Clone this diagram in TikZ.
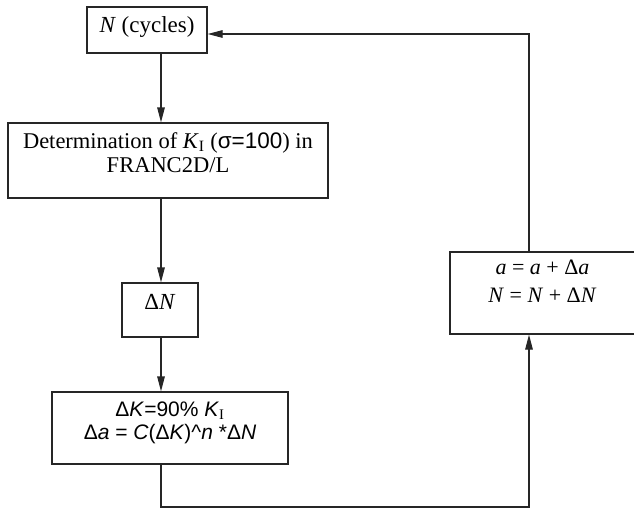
\documentclass[tikz,border=0pt]{standalone}
\usepackage{fontspec}
\setmainfont{Liberation Serif}
\setsansfont{Liberation Sans}
\usepackage{tikz}
\usetikzlibrary{positioning,arrows.meta}

\begin{document}
\begin{tikzpicture}
            [x=1pt,y=-1pt,line width=1.2pt,draw=black!85,
             >={Triangle[length=15pt,width=7.5pt]},
             every node/.style={draw=black!85, rectangle, fill=white, inner sep=0pt, align=center}]
            \useasboundingbox (0,0) rectangle (634,511);
            \node[minimum width=120pt, minimum height=46pt, text depth=10.5pt,
                  font=\fontsize{23}{21}\selectfont] (n1) at (147,30) {\textit{N} (cycles)};
            \node[minimum width=320pt, minimum height=75pt, text depth=16pt,
                  font=\fontsize{22.5}{24}\selectfont] (n2) at (168,160.5)
                  {Determination of \textit{K}\textsubscript{I} (\textsf{σ=100}) in\\FRANC2D/L};
            \node[minimum width=76pt, minimum height=54pt, text depth=15.5pt,
                  font=\fontsize{23}{21}\selectfont] (n3) at (160,310) {Δ\textit{N}};
            \node[minimum width=236pt, minimum height=72pt, text depth=14pt,
                  font=\sffamily\fontsize{21}{23}\selectfont] (n4) at (170,428)
                  {Δ\textit{K}=90\% \textit{K}\textsubscript{\rmfamily I}\\
                   Δ\textit{a} = \textit{C}(Δ\textit{K})\string^\textit{n} *Δ\textit{N}};
            \node[minimum width=185pt, minimum height=82pt, text depth=23pt,
                  font=\fontsize{22}{28}\selectfont] (n5) at (542.5,293)
                  {\textit{a} = \textit{a} + Δ\textit{a}\\\textit{N} = \textit{N} + Δ\textit{N}};
            \coordinate (l) at (161,0);
            \coordinate (r) at (529,0);
            \coordinate (t) at (0,34);
            \coordinate (b) at (0,507);
            
            \foreach \from/\to in {n1/n2, n2/n3, n3/n4}
            \draw[->] (\from.south -| l) -- (\to.north -| l);
            \draw[->] (n4.south -| l) -- (l |- b) -- (r |- b) -- (n5.south -| r);
            \draw[->] (n5.north -| r) -- (r |- t) -- (n1.east |- t);
          \end{tikzpicture}
\end{document}
